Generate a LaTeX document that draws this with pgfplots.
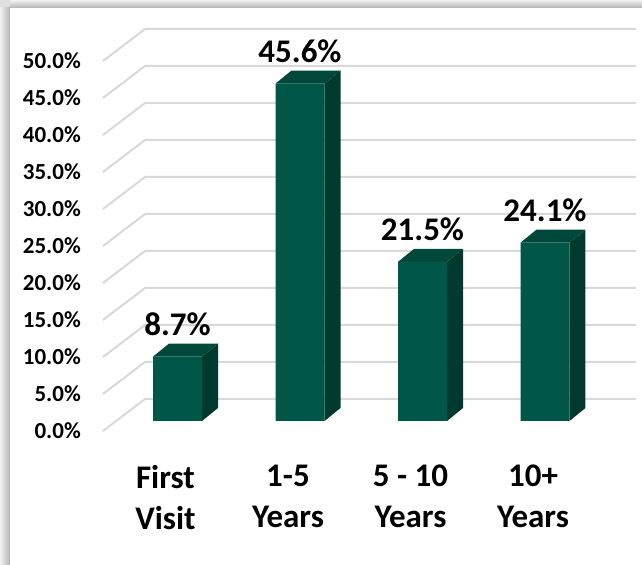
\documentclass[border=0pt]{standalone}
\usepackage{fontspec}
\setmainfont{Carlito}
\usepackage{pgfplots}
\usepackage{pgfplotstable}
\pgfplotsset{compat=1.18}
\definecolor{frontc}{RGB}{0,87,72}
\definecolor{sidec}{RGB}{0,58,47}
\definecolor{topc}{RGB}{0,72,58}
\definecolor{gridc}{RGB}{217,217,217}

\pgfplotstableread{
x y
0 8.7
1 45.6
2 21.5
3 24.1
}\datatable

\begin{document}
\begin{tikzpicture}
\fill[gray!25] (0bp,0bp) rectangle (642bp,565bp);
\shade[left color=gray!10, right color=gray!60] (0bp,0bp) rectangle (10bp,557bp);
\shade[top color=gray!10, bottom color=gray!60] (10bp,557bp) rectangle (642bp,565bp);
\fill[white] (10bp,0bp) rectangle (642bp,557bp);
\begin{axis}[
  at={(103bp,134bp)}, anchor=south west,
  scale only axis, width=533bp, height=402bp,
  xmin=-0.6082, xmax=3.7429, ymin=-1.3514, ymax=52.973,
  clip=false,
  axis line style={draw=none},
  major tick length=0pt,
  tick style={draw=none},
  xtick={0,1,2,3},
  xticklabels={{First\\Visit},{1-5\\Years},{5 - 10\\Years},{10+\\Years}},
  ytick={0,5,10,15,20,25,30,35,40,45,50},
  yticklabels={0.0\%,5.0\%,10.0\%,15.0\%,20.0\%,25.0\%,30.0\%,35.0\%,40.0\%,45.0\%,50.0\%},
  /pgf/number format/assume math mode=true,
  yticklabel style={anchor=east, inner sep=0pt, xshift=-22bp, yshift=-10bp,
    font=\bfseries\fontsize{23bp}{27bp}\selectfont},
  xticklabel style={anchor=north, align=center, inner sep=0pt, xshift=-12bp, yshift=-34bp,
    font=\bfseries\fontsize{33bp}{41bp}\selectfont},
]
\pgfplotsinvokeforeach{0,5,10,15,20,25,30,35,40,45,50}{%
  \pgfmathsetmacro\ga{#1-1.3514}%
  \pgfmathsetmacro\gb{#1+2.973}%
  \edef\tmp{\noexpand\addplot[gridc, line width=2bp, forget plot] coordinates {(-0.6082,\ga) (-0.2653,\gb) (3.7429,\gb)};}%
  \tmp
}
\pgfplotsinvokeforeach{0,1,2,3}{%
  \pgfplotstablegetelem{#1}{y}\of\datatable
  \pgfmathsetmacro\va{\pgfplotsretval}%
  \pgfmathsetmacro\vb{\pgfplotsretval+1.757}%
  \pgfmathsetmacro\xl{#1-0.2}%
  \pgfmathsetmacro\xr{#1+0.2}%
  \pgfmathsetmacro\xlb{#1-0.2+0.1306}%
  \pgfmathsetmacro\xrb{#1+0.2+0.1306}%
  \edef\tmp{\noexpand\addplot[fill=sidec, draw=none, forget plot] coordinates {(\xr,0) (\xrb,1.757) (\xrb,\vb) (\xr,\va)};
  \noexpand\addplot[fill=topc, draw=none, forget plot] coordinates {(\xl,\va) (\xr,\va) (\xrb,\vb) (\xlb,\vb)};}%
  \tmp
}
\addplot[ybar, bar width=0.4, fill=frontc, draw=none,
  nodes near coords={\pgfmathprintnumber[fixed,fixed zerofill,precision=1]{\pgfplotspointmeta}\%},
  every node near coord/.style={anchor=base, yshift=21bp, text=black,
    font=\bfseries\fontsize{33bp}{40bp}\selectfont}]
  table[x=x,y=y]{\datatable};
\end{axis}
\pgfresetboundingbox
\useasboundingbox (0bp,0bp) rectangle (642bp,565bp);
\end{tikzpicture}
\end{document}
